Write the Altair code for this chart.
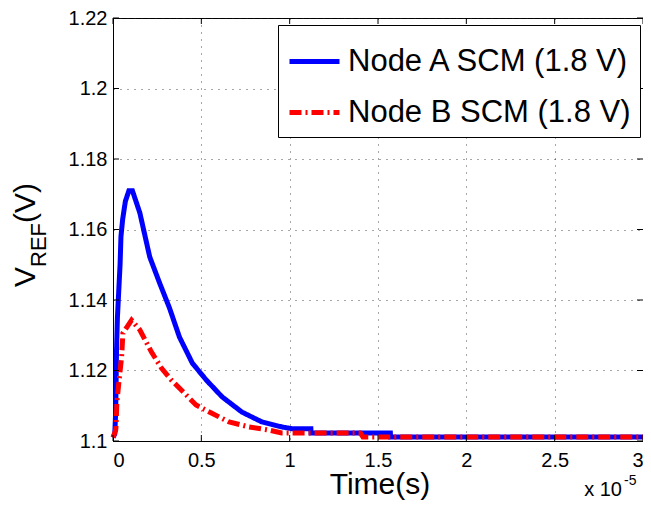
import altair as alt
import pandas as pd

# Time in units of 1e-5 s, V_REF in volts
a_t = [0.0, 0.010, 0.015, 0.018, 0.020, 0.025, 0.030, 0.040, 0.045, 0.055, 0.070, 0.090, 0.110,
       0.152, 0.208, 0.264, 0.320, 0.376, 0.449, 0.528, 0.618, 0.730, 0.843, 0.955, 1.011,
       1.120, 1.121, 1.570, 1.571, 3.0]
a_v = [1.1010, 1.1020, 1.1080, 1.1180, 1.1260, 1.1350, 1.1400, 1.1500, 1.1580, 1.1630, 1.1680, 1.1710, 1.1710,
       1.1647, 1.1522, 1.1448, 1.1377, 1.1295, 1.1221, 1.1173, 1.1125, 1.1082, 1.1054, 1.1040, 1.1035,
       1.1035, 1.1023, 1.1023, 1.1011, 1.1011]

b_t = [0.0, 0.015, 0.017, 0.022, 0.034, 0.049, 0.056, 0.105, 0.152, 0.217, 0.274, 0.330, 0.404,
       0.470, 0.554, 0.657, 0.770, 0.882, 0.955, 1.400, 1.415, 3.0]
b_v = [1.1010, 1.1030, 1.1040, 1.1110, 1.1170, 1.1240, 1.1306, 1.1343, 1.1315, 1.1253, 1.1207, 1.1173, 1.1136,
       1.1102, 1.1080, 1.1054, 1.1040, 1.1031, 1.1023, 1.1023, 1.1011, 1.1011]

series = ["Node A SCM (1.8 V)", "Node B SCM (1.8 V)"]
x_ticks = [0, 0.5, 1, 1.5, 2, 2.5, 3]
y_ticks = [1.1, 1.12, 1.14, 1.16, 1.18, 1.2, 1.22]

rows = []
for i, (t, v) in enumerate(zip(a_t, a_v)):
    rows.append({"t": t, "v": v, "series": series[0], "o": i})
for i, (t, v) in enumerate(zip(b_t, b_v)):
    rows.append({"t": t, "v": v, "series": series[1], "o": i})
df = pd.DataFrame(rows)

W, H = 530, 423
FONT = "Liberation Sans"

xs = alt.Scale(domain=[0, 3], nice=False, zero=False)
ys = alt.Scale(domain=[1.1, 1.22], nice=False, zero=False)

x_enc = alt.X("t:Q", scale=xs, axis=alt.Axis(values=x_ticks, title=None, format="~g",
                                             labelFontSize=20, labelPadding=9, grid=True, ticks=False))
y_enc = alt.Y("v:Q", scale=ys, axis=alt.Axis(values=y_ticks, title=None, format="~g",
                                             labelFontSize=20, labelPadding=6, grid=True, ticks=False))

lines = alt.Chart(df).mark_line(strokeWidth=5, interpolate="linear").encode(
    x=x_enc,
    y=y_enc,
    order="o:Q",
    color=alt.Color("series:N", scale=alt.Scale(domain=series, range=["#0000ff", "#ff0000"]),
                    legend=alt.Legend(title=None)),
    strokeDash=alt.StrokeDash("series:N", scale=alt.Scale(domain=series, range=[[1, 0], [12, 4, 2, 4]]),
                              legend=alt.Legend(title=None)),
)

xt = pd.DataFrame({"t": x_ticks})
yt = pd.DataFrame({"v": y_ticks})
tick_b = alt.Chart(xt).mark_rule(color="black", strokeWidth=1).encode(
    x=alt.X("t:Q", scale=xs), y=alt.value(H), y2=alt.value(H - 6))
tick_t = alt.Chart(xt).mark_rule(color="black", strokeWidth=1).encode(
    x=alt.X("t:Q", scale=xs), y=alt.value(0), y2=alt.value(6))
tick_l = alt.Chart(yt).mark_rule(color="black", strokeWidth=1).encode(
    y=alt.Y("v:Q", scale=ys), x=alt.value(0), x2=alt.value(6))
tick_r = alt.Chart(yt).mark_rule(color="black", strokeWidth=1).encode(
    y=alt.Y("v:Q", scale=ys), x=alt.value(W), x2=alt.value(W - 6))

one = pd.DataFrame({"k": [0]})


def label(text, x, y, size, angle=0, align="left"):
    kw = dict(text=text, fontSize=size, font=FONT, color="black", align=align, baseline="alphabetic")
    if angle:
        kw["angle"] = angle
    return alt.Chart(one).mark_text(**kw).encode(x=alt.value(x), y=alt.value(y))


yl_v = label("V", -78, 269, 30, angle=270)
yl_ref = label("REF", -67, 249, 22, angle=270)
yl_p = label("(V)", -78, 205, 30, angle=270)
xl = label("Time(s)", 267, 476, 30, align="center")
exp_a = label("x 10", 509, 478, 20, align="right")
exp_b = label("-5", 511, 467, 14)

chart = alt.layer(lines, tick_b, tick_t, tick_l, tick_r, yl_v, yl_ref, yl_p, xl, exp_a, exp_b).properties(
    width=W, height=H,
    autosize=alt.AutoSizeParams(type="none"),
    padding={"left": 105, "top": 10, "right": 0, "bottom": 59},
).configure(font=FONT).configure_view(
    stroke="black", strokeWidth=1
).configure_axis(
    domain=True, domainColor="black", domainWidth=1,
    gridColor="#222222", gridDash=[1, 6], gridWidth=1, gridOpacity=0.8,
    labelColor="black", titleColor="black", labelFont=FONT, titleFont=FONT,
    titleFontWeight="normal",
).configure_legend(
    orient="none", legendX=165, legendY=7,
    strokeColor="black", fillColor="white", padding=9, cornerRadius=0,
    labelFontSize=31, labelFont=FONT, labelColor="black", labelOffset=6,
    symbolType="stroke", symbolSize=2500, symbolStrokeWidth=5, rowPadding=8,
    labelLimit=0,
)

chart.save("out.html", embed_options={"renderer": "svg", "actions": False})
